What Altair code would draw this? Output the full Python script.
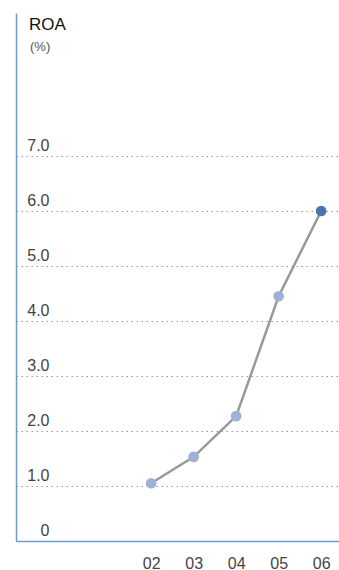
import altair as alt
import pandas as pd

# Return on assets by fiscal year (two-digit year labels)
years = [2, 3, 4, 5, 6]
year_labels = ["02", "03", "04", "05", "06"]
roa = [1.05, 1.53, 2.27, 4.45, 6.0]
point_colors = ["#a0b0d6", "#a0b0d6", "#a0b0d6", "#a0b0d6", "#4a74ad"]

df = pd.DataFrame({"year": years, "label": year_labels, "roa": roa, "color": point_colors})

FONT = "Liberation Sans"
AXIS_BLUE = "#6c9bd2"

x_scale = alt.Scale(domain=[-1.18, 6.42], nice=False, zero=False)
y_scale = alt.Scale(domain=[0, 9.6], nice=False)

base = alt.Chart(df)

line = base.mark_line(color="#999999", strokeWidth=2.5).encode(
    x=alt.X(
        "year:Q",
        scale=x_scale,
        axis=alt.Axis(
            values=years,
            labelExpr="'0' + datum.value",
            title=None,
            grid=False,
            ticks=False,
            domainColor=AXIS_BLUE,
            domainWidth=1.5,
            labelPadding=14,
            labelFont=FONT,
            labelFontSize=16,
            labelColor="#444444",
        ),
    ),
    y=alt.Y(
        "roa:Q",
        scale=y_scale,
        axis=alt.Axis(
            values=[0, 1, 2, 3, 4, 5, 6, 7],
            labelExpr="datum.value == 0 ? '0' : format(datum.value, '.1f')",
            title=None,
            grid=True,
            gridColor="#999999",
            gridDash=[1.5, 3.5],
            gridWidth=1.2,
            ticks=False,
            domainColor=AXIS_BLUE,
            domainWidth=1.5,
            labelAlign="right",
            labelBaseline="alphabetic",
            labelPadding=-33,
            labelOffset=-6,
            labelFont=FONT,
            labelFontSize=16,
            labelColor="#444444",
        ),
    ),
)

points = base.mark_circle(size=115, opacity=1).encode(
    x=alt.X("year:Q", scale=x_scale),
    y=alt.Y("roa:Q", scale=y_scale),
    color=alt.Color("color:N", scale=None),
)

title = alt.Chart(pd.DataFrame({"t": ["ROA"]})).mark_text(
    align="left", baseline="alphabetic", font=FONT, fontSize=17, color="#111111"
).encode(x=alt.value(13), y=alt.value(17), text="t:N")

unit = alt.Chart(pd.DataFrame({"t": ["(%)"]})).mark_text(
    align="left", baseline="alphabetic", font=FONT, fontSize=13, color="#555555"
).encode(x=alt.value(14), y=alt.value(38), text="t:N")

chart = (
    alt.layer(line, points, title, unit)
    .properties(
        width=323,
        height=528,
        autosize=alt.AutoSizeParams(type="none"),
        padding={"left": 16, "top": 13, "right": 0, "bottom": 29},
    )
    .configure_view(stroke=None)
)

chart.save("out.html", embed_options={"renderer": "svg", "actions": False})
